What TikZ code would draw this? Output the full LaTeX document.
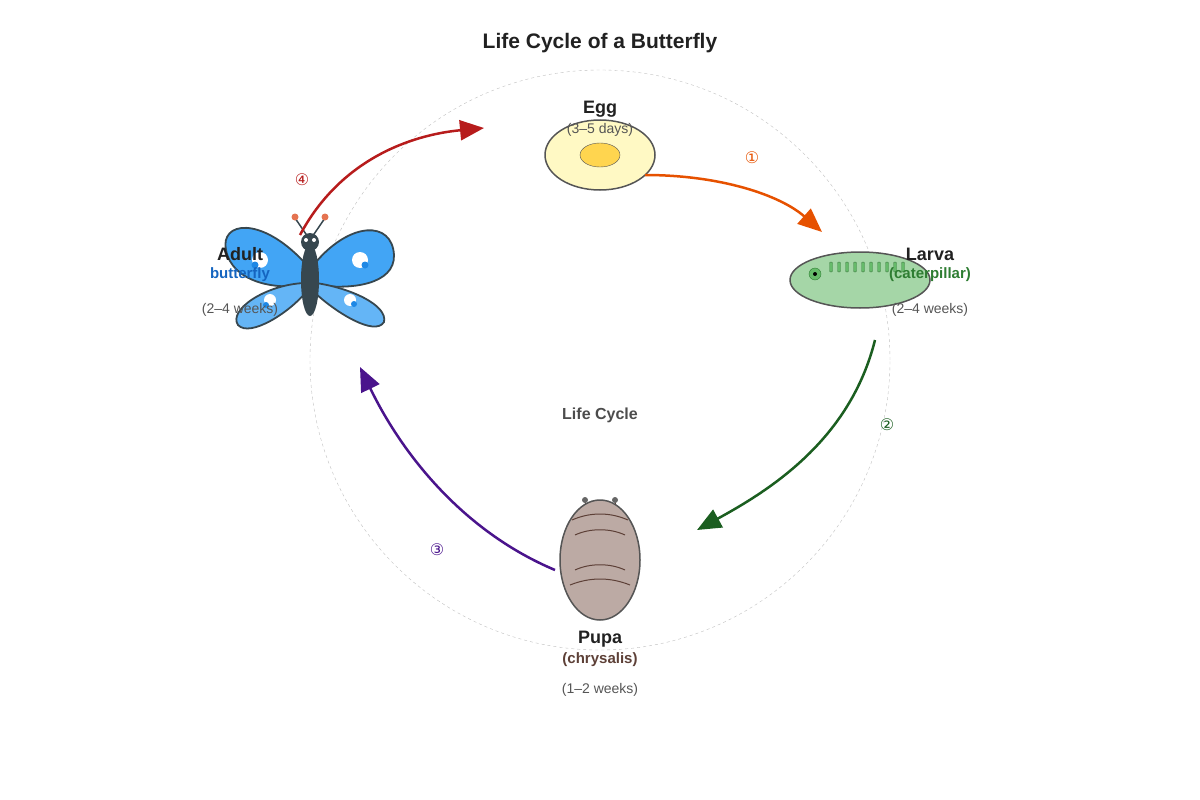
\documentclass[tikz,border=0pt]{standalone}
\usepackage{fontspec}
\setmainfont{Liberation Sans}
\newfontfamily\circfont{DejaVu Sans}
\usetikzlibrary{arrows.meta,shapes.geometric}
\definecolor{eggf}{HTML}{FFF9C4}\definecolor{yolk}{HTML}{FFD54F}
\definecolor{larf}{HTML}{A5D6A7}\definecolor{larg}{HTML}{66BB6A}\definecolor{catg}{HTML}{2E7D32}
\definecolor{pupf}{HTML}{BCAAA4}\definecolor{pupb}{HTML}{5D4037}
\definecolor{wing1}{HTML}{42A5F5}\definecolor{wing2}{HTML}{64B5F6}\definecolor{bod}{HTML}{37474F}
\definecolor{bblue}{HTML}{1565C0}\definecolor{dotb}{HTML}{1E88E5}\definecolor{ant}{HTML}{E57350}
\definecolor{a1}{HTML}{E65100}\definecolor{a2}{HTML}{1B5E20}\definecolor{a3}{HTML}{4A148C}\definecolor{a4}{HTML}{B71C1C}
\definecolor{txt}{HTML}{212121}\definecolor{gr}{HTML}{555555}
\tikzset{
 ttl/.style={font=\fontsize{18}{20}\selectfont\bfseries,text=txt},
 sub/.style={font=\fontsize{15}{17}\selectfont\bfseries},
 dur/.style={font=\fontsize{14}{16}\selectfont,text=gr},
 num/.style={font=\fontsize{16}{18}\selectfont\circfont},
 arr/.style={line width=2.5pt,-{Triangle[length=24pt,width=20pt]}},
 outl/.style={draw=gr,line width=1.5pt},
}
\begin{document}
\begin{tikzpicture}[x=1pt,y=-1pt]
\useasboundingbox (0,0) rectangle (1200,800);
\node[font=\fontsize{21}{24}\selectfont\bfseries,text=txt] (title) at (600,43) {Life Cycle of a Butterfly};
\node[draw=gray!50,dashed,circle,minimum size=580pt,inner sep=0pt] (ring) at (600,360) {};
\node[font=\fontsize{16}{18}\selectfont\bfseries,text=gr!90!black] (center) at (600,415) {Life Cycle};
% Egg
\node[ellipse,outl,fill=eggf,minimum width=110pt,minimum height=70pt,inner sep=0pt] (egg) at (600,155) {};
\node[ellipse,draw=gr,fill=yolk,minimum width=40pt,minimum height=24pt,inner sep=0pt] (yolk) at (600,155) {};
\node[ttl] (eggl) at (600,109) {Egg};
\node[dur] (eggd) at (600,130) {(3–5 days)};
% Larva
\node[ellipse,outl,fill=larf,minimum width=140pt,minimum height=56pt,inner sep=0pt] (larva) at (860,280) {};
\foreach \i in {0,...,9}{\node[draw=larg!70!black,fill=larg,rounded corners=1pt,minimum width=3pt,minimum height=10pt,inner sep=0pt] (leg\i) at (831+8*\i,267) {};}
\node[circle,draw=catg,fill=larg,minimum size=12pt,inner sep=0pt] (lhead) at (815,274) {};
\node[circle,fill=black,minimum size=4pt,inner sep=0pt] (leye) at (815,274) {};
\node[ttl] (larl) at (930,254) {Larva};
\node[sub,text=catg] (lars) at (930,275) {(caterpillar)};
\node[dur] (lard) at (930,310) {(2–4 weeks)};
% Pupa
\draw[pupb,line width=1pt] (585,500) -- (585,510) (615,500) -- (615,510);
\node[circle,fill=gray!80!black,minimum size=6pt,inner sep=0pt] (pa1) at (585,500) {};
\node[circle,fill=gray!80!black,minimum size=6pt,inner sep=0pt] (pa2) at (615,500) {};
\node[ellipse,outl,fill=pupf,minimum width=80pt,minimum height=120pt,inner sep=0pt] (pupa) at (600,560) {};
\draw[pupb,line width=1pt] (572,520) .. controls (590,512) and (610,512) .. (628,520)
 (575,535) .. controls (590,528) and (610,528) .. (625,535)
 (575,570) .. controls (590,563) and (610,563) .. (625,570)
 (570,585) .. controls (590,577) and (610,577) .. (630,585);
\node[ttl] (pupl) at (600,639) {Pupa};
\node[sub,text=pupb] (pups) at (600,660) {(chrysalis)};
\node[dur] (pupd) at (600,690) {(1–2 weeks)};
% Butterfly
\draw[bod,line width=1.5pt] (310,240) -- (295,218) (310,240) -- (325,218);
\fill[ant] (295,217) circle (3.5) (325,217) circle (3.5);
\begin{scope}[draw=bod,line width=1.8pt]
\filldraw[fill=wing1] (304,262) .. controls (260,215) and (220,222) .. (226,250) .. controls (232,282) and (275,290) .. (304,285) -- cycle;
\filldraw[fill=wing2] (304,283) .. controls (265,285) and (228,310) .. (238,325) .. controls (250,338) and (290,312) .. (306,292) -- cycle;
\filldraw[fill=wing1] (316,262) .. controls (350,222) and (392,220) .. (394,255) .. controls (395,285) and (350,290) .. (316,285) -- cycle;
\filldraw[fill=wing2] (316,283) .. controls (350,288) and (388,305) .. (384,322) .. controls (375,337) and (335,312) .. (314,292) -- cycle;
\end{scope}
\fill[white] (260,260) circle (8) (360,260) circle (8) (270,300) circle (6) (350,300) circle (6);
\fill[dotb] (255,265) circle (3.5) (365,265) circle (3.5) (266,305) circle (3) (354,304) circle (3);
\node[ellipse,fill=bod,minimum width=18pt,minimum height=72pt,inner sep=0pt] (body) at (310,280) {};
\node[circle,fill=bod,minimum size=18pt,inner sep=0pt] (bhead) at (310,242) {};
\fill[white] (306,240) circle (2) (314,240) circle (2);
\node[ttl] (adl) at (240,254) {Adult};
\node[sub,text=bblue] (ads) at (240,275) {butterfly};
\node[dur] (add) at (240,310) {(2–4 weeks)};
% arrows
\coordinate (s1) at (645,175); \coordinate (e1) at (822,232);
\coordinate (s2) at (875,340); \coordinate (e2) at (697,530);
\coordinate (s3) at (555,570); \coordinate (e3) at (360,367);
\coordinate (s4) at (300,235); \coordinate (e4) at (484,128);
\draw[arr,a1] (s1) .. controls (720,175) and (780,195) .. (e1);
\draw[arr,a2] (s2) .. controls (850,440) and (770,490) .. (e2);
\draw[arr,a3] (s3) .. controls (460,530) and (400,450) .. (e3);
\draw[arr,a4] (s4) .. controls (340,160) and (410,135) .. (e4);
\node[num,text=a1] (n1) at (752,158) {①};
\node[num,text=a2] (n2) at (887,425) {②};
\node[num,text=a3] (n3) at (437,550) {③};
\node[num,text=a4] (n4) at (302,180) {④};
\end{tikzpicture}
\end{document}
